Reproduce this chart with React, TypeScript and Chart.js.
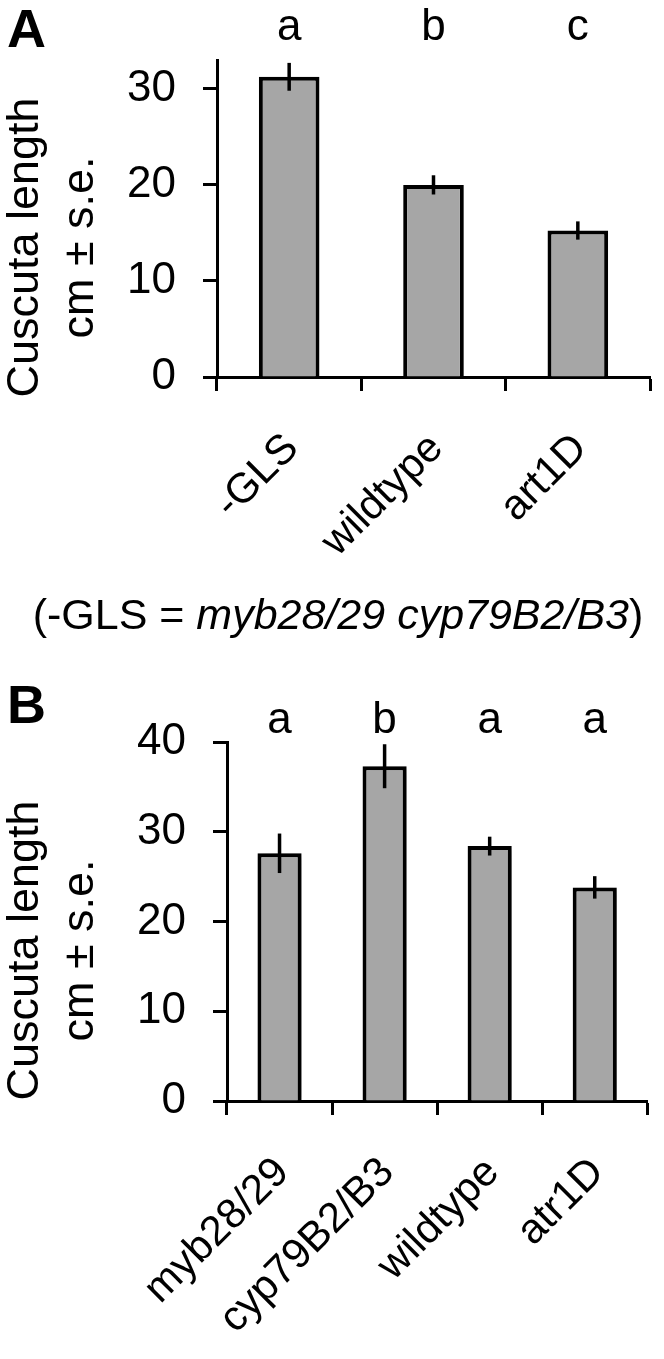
import React, { useEffect, useRef } from 'react';
import { Chart, registerables } from 'chart.js';

Chart.register(...registerables);

const FONT = "'Liberation Sans', Arial, Helvetica, sans-serif";

// Panel A data
const catsA = ['-GLS', 'wildtype', 'art1D'];
const valsA = [31.25, 20.0, 15.25];
const seA = [1.45, 1.0, 0.95];
const lettersA = ['a', 'b', 'c'];
const yTicksA = [0, 10, 20, 30];
const yMaxA = 33;

// Panel B data
const catsB = ['myb28/29', 'cyp79B2/B3', 'wildtype', 'atr1D'];
const valsB = [27.6, 37.3, 28.4, 23.8];
const seB = [2.2, 2.45, 1.05, 1.25];
const lettersB = ['a', 'b', 'a', 'a'];
const yTicksB = [0, 10, 20, 30, 40];
const yMaxB = 40;

const yTitleLines = ['Cuscuta length', 'cm \u00b1 s.e.'];
const footPlain = '(-GLS = ';
const footItalic = 'myb28/29 cyp79B2/B3';
const footEnd = ')';

const annotPlugin = {
  id: 'annot',
  beforeDatasetsDraw(chart: any, _a: any, opts: any) {
    if (opts.shadow) {
      const ctx = chart.ctx;
      ctx.save();
      ctx.shadowColor = 'rgba(0,0,0,0.3)';
      ctx.shadowBlur = 8;
      ctx.shadowOffsetX = 4;
      ctx.shadowOffsetY = 1;
    }
  },
  afterDatasetsDraw(chart: any, _a: any, opts: any) {
    const ctx = chart.ctx;
    if (opts.shadow) ctx.restore();
    const meta = chart.getDatasetMeta(0);
    const ys = chart.scales.y;
    ctx.save();
    ctx.strokeStyle = '#000';
    ctx.lineWidth = 3.5;
    ctx.lineCap = 'butt';
    meta.data.forEach((bar: any, i: number) => {
      const v = opts.vals[i];
      const s = opts.se[i];
      ctx.beginPath();
      ctx.moveTo(bar.x, ys.getPixelForValue(v + s));
      ctx.lineTo(bar.x, ys.getPixelForValue(v - s));
      ctx.stroke();
    });
    ctx.fillStyle = '#000';
    ctx.font = `44px ${FONT}`;
    ctx.textAlign = 'center';
    ctx.textBaseline = 'alphabetic';
    meta.data.forEach((bar: any, i: number) => {
      ctx.fillText(opts.letters[i], bar.x, opts.letterY);
    });
    ctx.font = `bold 54px ${FONT}`;
    ctx.textAlign = 'left';
    ctx.fillText(opts.panel, 7, opts.panelY);
    const ca = chart.chartArea;
    const cy = (ca.top + ca.bottom) / 2 + 29;
    ctx.font = `45px ${FONT}`;
    ctx.textAlign = 'center';
    opts.titleLines.forEach((t: string, k: number) => {
      ctx.save();
      ctx.translate(opts.titleX[k], cy);
      ctx.rotate(-Math.PI / 2);
      ctx.fillText(t, 0, 0);
      ctx.restore();
    });
    ctx.restore();
  },
};

type PanelProps = {
  cats: string[];
  vals: number[];
  se: number[];
  letters: string[];
  yTicks: number[];
  yMax: number;
  panel: string;
  top: number;
  height: number;
  padTop: number;
  padRight: number;
  yAxisWidth: number;
  xAxisHeight: number;
  letterY: number;
  panelY: number;
  shadow: boolean;
};

function Panel(p: PanelProps) {
  const ref = useRef<HTMLCanvasElement | null>(null);
  useEffect(() => {
    if (!ref.current) return;
    const chart = new Chart(ref.current, {
      type: 'bar',
      data: {
        labels: p.cats,
        datasets: [
          {
            data: p.vals,
            backgroundColor: '#a6a6a6',
            borderColor: '#000',
            borderWidth: 4,
            barPercentage: 0.42,
            categoryPercentage: 1,
          },
        ],
      },
      plugins: [annotPlugin as any],
      options: {
        animation: false,
        responsive: true,
        maintainAspectRatio: false,
        layout: { padding: { top: p.padTop, right: p.padRight, bottom: 0, left: 0 } },
        plugins: {
          legend: { display: false },
          tooltip: { enabled: false },
          title: { display: false },
          annot: {
            vals: p.vals,
            se: p.se,
            letters: p.letters,
            letterY: p.letterY,
            panel: p.panel,
            panelY: p.panelY,
            titleLines: yTitleLines,
            titleX: [38, 93],
            shadow: p.shadow,
          },
        } as any,
        scales: {
          x: {
            type: 'category',
            offset: true,
            grid: {
              offset: true,
              drawOnChartArea: false,
              drawTicks: true,
              tickLength: 14,
              tickWidth: 3,
              tickColor: '#000',
            },
            border: { display: true, color: '#000', width: 3 },
            ticks: {
              maxRotation: 45,
              minRotation: 45,
              autoSkip: false,
              padding: 33,
              labelOffset: 3,
              color: '#000',
              font: { family: FONT, size: 42 },
            },
            afterFit: (s: any) => {
              s.height = p.xAxisHeight;
            },
          },
          y: {
            min: 0,
            max: p.yMax,
            afterBuildTicks: (s: any) => {
              s.ticks = p.yTicks.map((v) => ({ value: v }));
            },
            grid: {
              drawOnChartArea: false,
              drawTicks: true,
              tickLength: 14,
              tickWidth: 3,
              tickColor: '#000',
            },
            border: { display: true, color: '#000', width: 3 },
            ticks: {
              padding: 27,
              color: '#000',
              font: { family: FONT, size: 44 },
            },
            afterFit: (s: any) => {
              s.width = p.yAxisWidth;
            },
          },
        },
      } as any,
    });
    return () => chart.destroy();
  }, []);
  return (
    <div
      style={{
        position: 'absolute',
        left: 0,
        top: p.top,
        width: 664,
        height: p.height,
      }}
    >
      <canvas ref={ref} />
    </div>
  );
}

export default function App() {
  return (
    <div
      style={{
        position: 'absolute',
        left: 0,
        top: 0,
        width: 664,
        height: 1359,
        background: '#fff',
        overflow: 'hidden',
      }}
    >
      <Panel
        cats={catsA}
        vals={valsA}
        se={seA}
        letters={lettersA}
        yTicks={yTicksA}
        yMax={yMaxA}
        panel="A"
        top={0}
        height={590}
        padTop={60}
        padRight={14}
        yAxisWidth={217}
        xAxisHeight={213}
        letterY={40}
        panelY={47}
        shadow={false}
      />
      <div
        style={{
          position: 'absolute',
          left: 6,
          top: 587,
          width: 664,
          height: 55,
          lineHeight: '55px',
          textAlign: 'center',
          fontFamily: FONT,
          fontSize: 43,
          color: '#000',
          whiteSpace: 'nowrap',
        }}
      >
        {footPlain}
        <i>{footItalic}</i>
        {footEnd}
      </div>
      <Panel
        cats={catsB}
        vals={valsB}
        se={seB}
        letters={lettersB}
        yTicks={yTicksB}
        yMax={yMaxB}
        panel="B"
        top={660}
        height={699}
        padTop={82}
        padRight={5}
        yAxisWidth={227}
        xAxisHeight={258}
        letterY={73}
        panelY={63}
        shadow={true}
      />
    </div>
  );
}
